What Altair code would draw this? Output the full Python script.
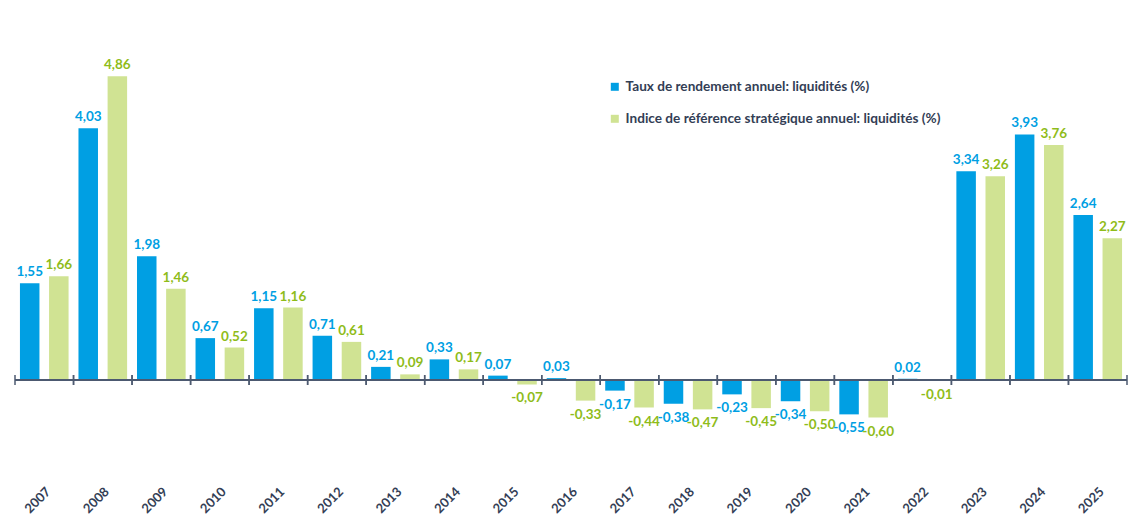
import altair as alt
import pandas as pd

years = [str(y) for y in range(2007, 2026)]
taux = [1.55, 4.03, 1.98, 0.67, 1.15, 0.71, 0.21, 0.33, 0.07, 0.03,
        -0.17, -0.38, -0.23, -0.34, -0.55, 0.02, 3.34, 3.93, 2.64]
indice = [1.66, 4.86, 1.46, 0.52, 1.16, 0.61, 0.09, 0.17, -0.07, -0.33,
          -0.44, -0.47, -0.45, -0.50, -0.60, -0.01, 3.26, 3.76, 2.27]
series = ["Taux de rendement annuel: liquidités (%)",
          "Indice de référence stratégique annuel: liquidités (%)"]

rows = []
for y, a, b in zip(years, taux, indice):
    rows.append({"year": y, "series": series[0], "value": a})
    rows.append({"year": y, "series": series[1], "value": b})
df = pd.DataFrame(rows)
df["label"] = df["value"].map(lambda v: f"{v:.2f}".replace(".", ","))
ticks_df = pd.DataFrame({"year": years})

FONT = "Lato"
BLUE = "#009fe3"
HATCH = "#d0e393"
GREEN_TXT = "#8fbc1a"
DARK = "#333e55"
AXIS = "#4d5a70"

W, H = 1112, 472
YDOM = [-1.6, 5.952]

x_enc = alt.X("year:N", sort=years,
              scale=alt.Scale(paddingInner=0, paddingOuter=0),
              axis=alt.Axis(orient="bottom", labelAngle=-45, domain=False,
                            ticks=False, title=None, labelFont=FONT,
                            labelFontSize=13, labelFontWeight="bold",
                            labelColor=DARK, labelPadding=5, grid=False))
xo = alt.XOffset("series:N", sort=series,
                 scale=alt.Scale(domain=series, paddingInner=0.33, paddingOuter=0.17))
y_enc = alt.Y("value:Q", scale=alt.Scale(domain=YDOM, nice=False, zero=False), axis=None)

base = alt.Chart(df)

bars = base.mark_bar().encode(
    x=x_enc, xOffset=xo, y=y_enc, y2=alt.datum(0),
    fill=alt.Fill("series:N", sort=series,
                  scale=alt.Scale(domain=series, range=[BLUE, HATCH]),
                  legend=alt.Legend(orient="none", legendX=593, legendY=72,
                                    title=None, symbolType="square",
                                    symbolSize=64, labelFont=FONT,
                                    labelFontSize=13.6, labelFontWeight="bold",
                                    labelColor=DARK, rowPadding=17,
                                    labelOffset=4,
                                    labelLimit=0, symbolStrokeWidth=0)),
)

txt_color = alt.Color("series:N", sort=series,
                      scale=alt.Scale(domain=series, range=[BLUE, GREEN_TXT]),
                      legend=None)
x_plain = alt.X("year:N", sort=years)

pos_text = base.transform_filter("datum.value >= 0").mark_text(
    baseline="bottom", dy=-4, font=FONT, fontSize=13.5, fontWeight="bold"
).encode(x=x_plain, xOffset=xo, y=alt.Y("value:Q"), text="label:N", color=txt_color)

neg_text = base.transform_filter("datum.value < 0").mark_text(
    baseline="top", dy=7, font=FONT, fontSize=13.5, fontWeight="bold"
).encode(x=x_plain, xOffset=xo, y=alt.Y("value:Q"), text="label:N", color=txt_color)

zero_line = alt.Chart(ticks_df).mark_rule(color=AXIS, strokeWidth=1.5).encode(
    y=alt.datum(0)
)

ticks_start = alt.Chart(ticks_df).mark_rule(color=AXIS, strokeWidth=1.5).encode(
    x=alt.X("year:N", sort=years, bandPosition=0),
    y=alt.datum(-0.08), y2=alt.datum(0.08)
)
ticks_end = alt.Chart(ticks_df).mark_rule(color=AXIS, strokeWidth=1.5).encode(
    x=alt.X("year:N", sort=years, bandPosition=1),
    y=alt.datum(-0.08), y2=alt.datum(0.08)
)

chart = alt.layer(bars, zero_line, ticks_start, ticks_end, pos_text, neg_text).properties(
    width=W, height=H,
    padding={"left": 6, "top": 0, "right": 0, "bottom": 0},
    background="white",
).configure_view(stroke=None)

chart.save("out.html", embed_options={"renderer": "svg", "actions": False})
